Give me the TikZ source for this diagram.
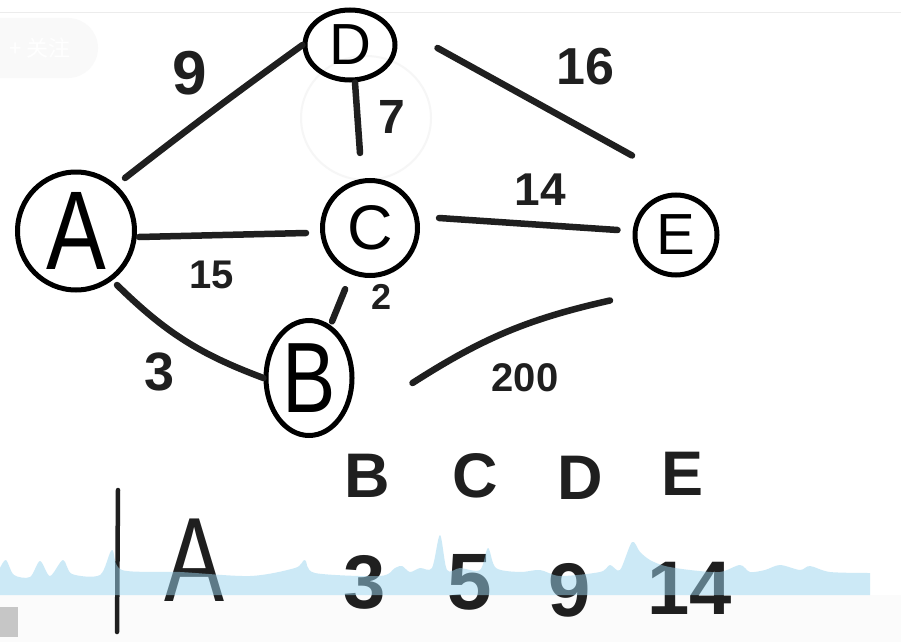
\documentclass[tikz,border=0pt]{standalone}
\usepackage{fontspec}
\setmainfont{Liberation Sans}
\newfontfamily\cjk{Noto Sans CJK SC}
\usetikzlibrary{shapes.geometric,calc}
\newcommand\fsz[1]{\fontsize{#1}{#1}\selectfont}
\begin{document}
\begin{tikzpicture}[x=1pt,y=-1pt,
  vert/.style={draw, ellipse, line width=5pt, inner sep=0pt},
  edge/.style={line width=6.5pt, line cap=round, color=black!88},
  wlabel/.style={inner sep=0pt, text=black!88},
  cell/.style={inner sep=0pt, text=black!88}]
\fill[white] (0,0) rectangle (901,642);
\useasboundingbox (0,0) rectangle (901,642);
% bottom light strip (under text)
\fill[gray!3] (0,595) rectangle (901,642);
\fill[gray!45] (0,607) rectangle (18,637);
% top header line and follow button
\draw[gray!15, line width=1pt] (0,13) -- (901,13);
\fill[gray!5, rounded corners=30pt] (-40,18) rectangle (98,78);
\node[text=white, font=\cjk\fsz{22}] (follow) at (40,48) {+ 关注};
% faint ghost circle
\draw[gray!7, line width=2pt] (366,118) ellipse (65 and 62);
% vertices
\node[vert, minimum width=117, minimum height=118, font=\fsz{112}] (A) at (76,231) {\scalebox{0.8}[1]{A}};
\node[vert, minimum width=90, minimum height=70, font=\fsz{58}] (D) at (350,45) {D};
\node[vert, minimum width=95, minimum height=95, font=\fsz{63}] (C) at (370,228) {C};
\node[vert, minimum width=86, minimum height=115, font=\fsz{100}] (B) at (309,378) {\scalebox{0.8}[1]{B}};
\node[vert, minimum width=82, minimum height=80, font=\fsz{58}] (E) at (676,235) {E};
% edges
\draw[edge] ($(A)+(49,-53)$) to[bend left=1] (D.west);
\draw[edge] ($(D.south)+(5,0)$) -- ($(C.north)+(-10,-25)$);
\draw[edge] ($(D.east)+(40,3)$) -- ($(E.north)+(-44,-37)$);
\draw[edge] ($(A.east)+(2,6)$) -- ($(C.west)+(-14,5)$);
\draw[edge] ($(C.east)+(19,-10)$) -- ($(E.west)+(-15,-5)$);
\draw[edge, shorten <=16pt, shorten >=4pt] (C) -- (B);
\draw[edge] ($(A)+(41,54)$) to[bend right=12] (B.west);
\draw[edge] ($(B.east)+(58,5)$) to[bend left=10] ($(E.south)+(-66,23)$);
% weights
\node[wlabel, font=\bfseries\fsz{62}] (w9) at (190,73) {9};
\node[wlabel, font=\bfseries\fsz{48}] (w7) at (392,117) {7};
\node[wlabel, font=\bfseries\fsz{52}] (w16) at (585,67) {16};
\node[wlabel, font=\bfseries\fsz{46}] (w14) at (540,190) {14};
\node[wlabel, font=\bfseries\fsz{40}] (w15) at (212,275) {15};
\node[wlabel, font=\bfseries\fsz{36}] (w2) at (382,297) {2};
\node[wlabel, font=\bfseries\fsz{54}] (w3) at (160,372) {3};
\node[wlabel, font=\bfseries\fsz{40}] (w200) at (525,378) {200};
% table
\draw[line width=4.5pt, line cap=round, black!88] (118,490) -- (117,632);
\node[cell, font=\bfseries\fsz{63}] (hB) at (367,476) {B};
\node[cell, font=\bfseries\fsz{63}] (hC) at (475,476) {C};
\node[cell, font=\bfseries\fsz{63}] (hD) at (580,478) {D};
\node[cell, font=\bfseries\fsz{63}] (hE) at (682,474) {E};
\node[cell, font=\fsz{120}] (rA) at (195,560) {\scalebox{0.75}[1]{A}};
\node[cell, font=\bfseries\fsz{76}] (r3) at (365,582) {3};
\node[cell, font=\bfseries\fsz{80}] (r5) at (470,582) {5};
\node[cell, font=\bfseries\fsz{76}] (r9) at (570,590) {9};
\node[cell, font=\bfseries\fsz{76}] (r14) at (690,588) {14};
% waveform overlay band
\fill[fill={rgb,255:red,155;green,213;blue,239}, fill opacity=0.5]
  plot[smooth] coordinates {(0,568) (6,560) (14,575) (30,577) (40,561) (50,576) (63,560) (72,574) (100,575) (112,550) (122,570) (180,572) (250,576) (295,568) (305,560) (315,573) (380,576) (395,568) (402,566) (410,572) (420,568) (432,568) (440,535) (447,570) (460,568) (480,570) (488,548) (496,568) (520,572) (540,570) (560,576) (600,572) (610,565) (620,570) (632,542) (640,552) (650,560) (665,566) (690,570) (720,572) (740,565) (750,572) (765,570) (780,565) (800,570) (810,566) (830,572) (870,573)}
  -- (870,595) -- (0,595) -- cycle;
\end{tikzpicture}
\end{document}
